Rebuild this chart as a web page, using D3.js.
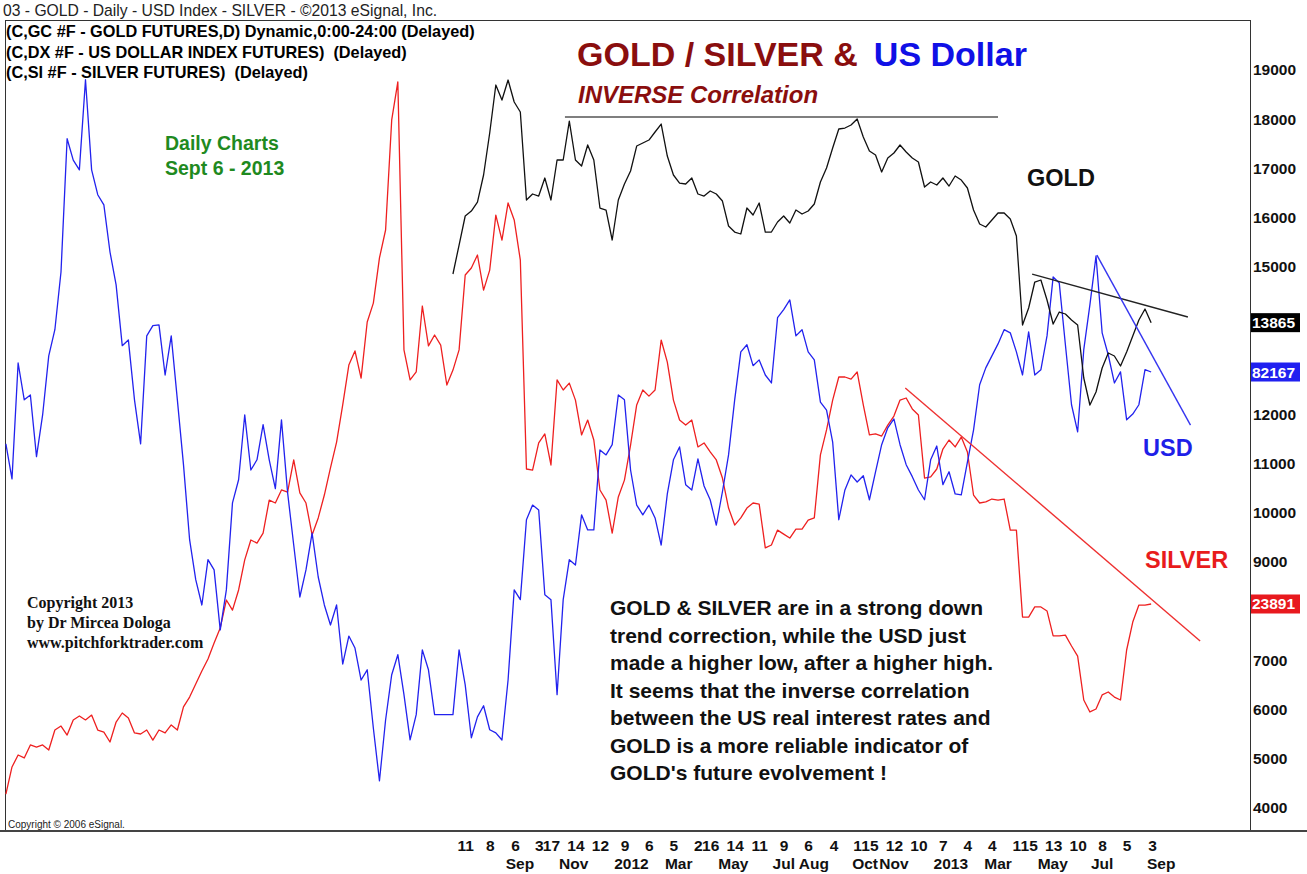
<!DOCTYPE html>
<html>
<head>
<meta charset="utf-8">
<script src="https://cdn.jsdelivr.net/npm/d3@7"></script>
<style>
  body { margin: 0; background: #fff; }
  svg { display: block; font-family: "Liberation Sans", Arial, sans-serif; }
</style>
</head>
<body>
<svg class="chart" width="1307" height="874"></svg>
<script>
// weekly (Monday) closes
var seriesStart = "2010-02-01";
var goldStart = "2011-06-27";
var stepDays = 7;

// US Dollar index futures (DX #F)
var usdCloses = [
  80.55, 79.76, 82.37, 81.54, 81.65, 80.26, 81.20, 82.53, 83.12, 84.42,
  87.42, 86.94, 86.72, 88.75, 86.72, 86.16, 85.93, 84.87, 84.13, 82.76,
  82.89, 81.54, 80.55, 82.98, 83.21, 83.23, 82.10, 82.98, 81.54, 80.08,
  78.39, 77.49, 76.92, 77.94, 77.71, 76.36, 77.26, 79.22, 79.74, 81.20,
  79.96, 80.19, 80.98, 80.19, 79.54, 81.09, 79.45, 78.27, 77.10, 77.71,
  78.54, 77.55, 76.92, 76.47, 76.92, 75.59, 76.22, 75.95, 75.23, 75.46,
  74.15, 72.96, 74.33, 75.35, 75.80, 74.90, 73.88, 74.45, 75.91, 75.46,
  74.45, 74.45, 74.45, 74.45, 75.91, 75.12, 73.93, 74.40, 74.65, 74.11,
  74.04, 73.88, 75.23, 77.26, 77.04, 78.84, 79.17, 79.06, 77.15, 77.04,
  74.90, 77.04, 77.94, 77.82, 78.95, 78.61, 78.61, 80.41, 80.30, 80.53,
  81.65, 81.54, 79.96, 79.17, 78.95, 79.17, 78.88, 78.27, 79.42, 80.19,
  80.48, 79.63, 79.51, 80.21, 79.60, 79.29, 78.72, 79.47, 80.30, 81.54,
  82.62, 82.78, 82.31, 82.44, 82.10, 81.92, 83.39, 83.57, 83.79, 82.98,
  83.12, 82.62, 82.44, 81.49, 81.31, 80.59, 78.84, 79.51, 79.85, 79.69,
  79.83, 79.29, 79.92, 80.53, 80.91, 81.11, 80.53, 80.08, 79.81, 79.51,
  79.29, 80.19, 80.50, 79.63, 79.92, 79.42, 79.40, 80.14, 80.86, 81.88,
  82.26, 82.53, 82.80, 83.12, 83.05, 82.62, 82.10, 83.07, 82.10, 82.22,
  82.98, 84.31, 84.17, 82.78, 81.43, 80.82, 82.67, 83.68, 84.78, 83.05,
  82.55, 81.92, 82.17, 81.09, 81.22, 81.43, 82.22, 82.167
];

// Silver futures (SI #F)
var silverCloses = [
  14.84, 16.13, 16.70, 16.56, 17.18, 17.08, 17.18, 16.94, 17.89, 18.08,
  17.65, 18.37, 18.56, 18.37, 18.60, 17.89, 17.79, 17.32, 18.27, 18.70,
  18.46, 17.75, 17.70, 17.89, 17.41, 17.89, 17.75, 18.13, 17.89, 18.99,
  19.46, 20.08, 20.70, 21.27, 22.03, 22.75, 24.08, 23.60, 24.56, 25.99,
  26.94, 26.79, 27.27, 28.84, 28.70, 29.32, 29.22, 30.75, 29.18, 28.70,
  27.18, 27.99, 29.08, 30.37, 31.60, 33.37, 35.27, 35.94, 34.65, 37.32,
  38.22, 40.37, 41.70, 46.94, 48.75, 35.99, 34.56, 34.94, 38.08, 36.18,
  36.70, 36.22, 34.32, 35.03, 35.99, 39.56, 39.89, 40.51, 38.84, 39.79,
  42.41, 41.22, 42.99, 42.18, 40.27, 30.32, 30.27, 31.56, 31.99, 30.51,
  34.56, 34.08, 34.41, 33.60, 31.94, 32.65, 31.70, 29.32, 28.84, 27.27,
  28.99, 29.79, 31.46, 33.37, 34.08, 33.79, 34.08, 36.46, 35.41, 33.60,
  32.65, 32.41, 32.65, 31.37, 31.56, 31.13, 30.75, 29.89, 28.46, 27.65,
  27.99, 28.46, 28.70, 28.65, 26.56, 26.70, 27.41, 27.22, 27.03, 27.46,
  27.46, 27.89, 27.99, 30.99, 32.18, 33.60, 34.70, 34.70, 34.60, 34.94,
  33.37, 31.94, 31.99, 31.89, 32.41, 32.84, 33.60, 33.70, 33.18, 32.89,
  29.89, 29.94, 30.32, 31.27, 31.70, 31.37, 31.84, 31.13, 29.08, 28.70,
  28.75, 28.89, 28.84, 28.89, 27.41, 27.41, 23.27, 23.27, 23.75, 23.75,
  23.56, 22.37, 22.37, 22.41, 21.89, 21.41, 19.32, 18.75, 18.89, 19.56,
  19.70, 19.46, 19.32, 21.70, 23.03, 23.84, 23.84, 23.891
];

// Gold futures (GC #F), data starts later than the other two
var goldCloses = [
  1485.4, 1544.3, 1603.3, 1613.4, 1631.7, 1686.6, 1772.0, 1869.5, 1839.0, 1879.7,
  1835.0, 1814.6, 1635.8, 1648.0, 1643.9, 1680.5, 1635.8, 1717.1, 1717.1, 1796.3,
  1717.1, 1704.9, 1747.6, 1717.1, 1619.5, 1615.4, 1554.5, 1635.8, 1668.3, 1694.7,
  1745.5, 1751.6, 1757.7, 1774.0, 1790.2, 1725.2, 1686.6, 1670.3, 1668.3, 1680.5,
  1648.0, 1643.9, 1654.1, 1648.0, 1633.7, 1582.9, 1570.7, 1566.7, 1619.5, 1605.3,
  1629.7, 1570.7, 1570.7, 1591.1, 1603.3, 1589.0, 1615.4, 1607.3, 1613.4, 1627.6,
  1672.4, 1700.8, 1741.5, 1780.1, 1782.1, 1788.2, 1800.4, 1763.8, 1735.4, 1727.2,
  1692.7, 1721.1, 1731.3, 1747.6, 1733.3, 1721.1, 1713.0, 1662.2, 1672.4, 1666.3,
  1680.5, 1664.2, 1684.6, 1676.4, 1660.2, 1615.4, 1587.0, 1580.9, 1595.1, 1609.4,
  1609.4, 1597.2, 1562.6, 1381.7, 1416.3, 1469.1, 1473.2, 1432.5, 1383.7, 1408.1,
  1404.1, 1391.9, 1381.7, 1274.0, 1219.1, 1245.5, 1294.3, 1324.8, 1318.7, 1298.4,
  1326.8, 1359.4, 1391.9, 1414.2, 1386.5
];

// hand drawn trend lines [date, price]
var goldCeiling = [["2011-11-02", 1804.5], ["2013-03-11", 1804.5]];
var goldTrend = [["2013-04-19", 1485], ["2013-10-14", 1398]];
var usdTrend = [["2013-07-02", 84.80], ["2013-10-17", 80.97]];
var silverTrend = [["2012-11-25", 34.18], ["2013-10-28", 22.13]];

// axis labels
var goldTicks = [400, 500, 600, 700, 800, 900, 1000, 1100, 1200, 1300, 1400, 1500, 1600, 1700, 1800, 1900];
var dayTicks = ["2011-07-11", "2011-08-08", "2011-09-06", "2011-10-03", "2011-10-17", "2011-11-14",
  "2011-12-12", "2012-01-09", "2012-02-06", "2012-03-05", "2012-04-02", "2012-04-16", "2012-05-14",
  "2012-06-11", "2012-07-09", "2012-08-06", "2012-09-04", "2012-10-01", "2012-10-15", "2012-11-12",
  "2012-12-10", "2013-01-07", "2013-02-04", "2013-03-04", "2013-04-01", "2013-04-15", "2013-05-13",
  "2013-06-10", "2013-07-08", "2013-08-05", "2013-09-03"];
var monthTicks = [["2011-09-01", "Sep"], ["2011-11-01", "Nov"], ["2012-01-03", "2012"], ["2012-03-01", "Mar"],
  ["2012-05-01", "May"], ["2012-07-02", "Jul"], ["2012-08-01", "Aug"], ["2012-10-01", "Oct"],
  ["2012-11-01", "Nov"], ["2013-01-02", "2013"], ["2013-03-01", "Mar"], ["2013-05-01", "May"],
  ["2013-07-01", "Jul"], ["2013-09-03", "Sep"]];

var headerLines = [
  "(C,GC #F - GOLD FUTURES,D) Dynamic,0:00-24:00 (Delayed)",
  "(C,DX #F - US DOLLAR INDEX FUTURES)  (Delayed)",
  "(C,SI #F - SILVER FUTURES)  (Delayed)"
];
var noteLines = [
  "GOLD & SILVER are in a strong down",
  "trend correction, while the USD just",
  "made a higher low, after a higher high.",
  "It seems that the inverse correlation",
  "between the US real interest rates and",
  "GOLD is a more reliable indicator of",
  "GOLD's future evolvement !"
];
var copyLines = ["Copyright 2013", "by Dr Mircea Dologa", "www.pitchforktrader.com"];

var goldColor = "#111", usdColor = "#2222ee", silverColor = "#ee2020";

var svg = d3.select(".chart");
var parse = d3.timeParse("%Y-%m-%d");

var x = d3.scaleTime()
    .domain([parse("2010-01-31"), parse("2013-12-24")])
    .range([5, 1250]);
// each symbol is overlaid on its own price scale, the axis shows gold
var yGold = d3.scaleLinear().domain([355.3, 1997.6]).range([830, 22]);
var yUsd = d3.scaleLinear().domain([71.852, 90.05]).range([830, 22]);
var ySilver = d3.scaleLinear().domain([13.129, 51.605]).range([830, 22]);

function weekly(values, start) {
  var t0 = parse(start);
  return values.map(function (v, i) {
    return { date: d3.timeDay.offset(t0, i * stepDays), value: v };
  });
}
function pairs(list) {
  return list.map(function (d) { return { date: parse(d[0]), value: d[1] }; });
}

// last price tags on the axis
var tags = [
  { value: goldCloses[goldCloses.length - 1], y: yGold, color: "#000", text: "13865" },
  { value: usdCloses[usdCloses.length - 1], y: yUsd, color: "#2020f0", text: "82167" },
  { value: silverCloses[silverCloses.length - 1], y: ySilver, color: "#e8191e", text: "23891" }
];

// frame
svg.append("rect")
    .attr("x", 5.5).attr("y", 20.5)
    .attr("width", 1245).attr("height", 810)
    .attr("fill", "none").attr("stroke", "#333").attr("stroke-width", 1);
svg.append("line")
    .attr("x1", 0).attr("x2", 1307).attr("y1", 831).attr("y2", 831)
    .attr("stroke", "#444").attr("stroke-width", 2);

svg.append("text")
    .attr("x", 3).attr("y", 16)
    .attr("font-size", 15.7).attr("fill", "#222")
    .text("03 - GOLD -  Daily - USD Index - SILVER - \u00a92013 eSignal, Inc.");

svg.append("g").selectAll("text")
    .data(headerLines)
    .enter().append("text")
    .attr("x", 6)
    .attr("y", function (d, i) { return 37 + i * 20.5; })
    .attr("font-size", 16.3).attr("font-weight", "bold")
    .style("white-space", "pre")
    .text(function (d) { return d; });

// right price axis (gold, shown x10 like eSignal); labels hidden under a tag are dropped
var shownTicks = goldTicks.filter(function (v) {
  return tags.every(function (t) { return Math.abs(yGold(v) - t.y(t.value)) > 12; });
});
var yAxis = svg.append("g")
    .attr("transform", "translate(1250,0)")
    .call(d3.axisRight(yGold)
      .tickValues(shownTicks)
      .tickSize(0)
      .tickPadding(3)
      .tickFormat(function (d) { return d * 10; }));
yAxis.select(".domain").remove();
yAxis.selectAll("text")
    .attr("font-family", "Liberation Sans, Arial, sans-serif")
    .attr("font-size", 15.5).attr("font-weight", "bold").attr("fill", "#111");

// date axis
var xAxis = svg.append("g")
    .attr("transform", "translate(0,830)")
    .call(d3.axisBottom(x)
      .tickValues(dayTicks.map(parse))
      .tickSize(0)
      .tickPadding(10)
      .tickFormat(d3.timeFormat("%-d")));
xAxis.select(".domain").remove();
xAxis.selectAll("text")
    .attr("font-family", "Liberation Sans, Arial, sans-serif")
    .attr("font-size", 15.5).attr("font-weight", "bold").attr("fill", "#111");

svg.append("g").selectAll("text")
    .data(monthTicks)
    .enter().append("text")
    .attr("x", function (d) { return x(parse(d[0])) - 5; })
    .attr("y", 869)
    .attr("font-size", 15.5).attr("font-weight", "bold").attr("fill", "#111")
    .text(function (d) { return d[1]; });

// series
var series = [
  { data: weekly(silverCloses, seriesStart), y: ySilver, color: silverColor },
  { data: weekly(usdCloses, seriesStart), y: yUsd, color: usdColor },
  { data: weekly(goldCloses, goldStart), y: yGold, color: goldColor }
];

series.forEach(function (s) {
  var line = d3.line()
      .x(function (d) { return x(d.date); })
      .y(function (d) { return s.y(d.value); });
  svg.append("path")
      .datum(s.data)
      .attr("fill", "none")
      .attr("stroke", s.color)
      .attr("stroke-width", 1.3)
      .attr("stroke-linejoin", "round")
      .attr("d", line);
});

// trend lines
var trends = [
  { data: pairs(goldCeiling), y: yGold, color: "#555", width: 1.6 },
  { data: pairs(goldTrend), y: yGold, color: "#222", width: 1.4 },
  { data: pairs(usdTrend), y: yUsd, color: "#3535f0", width: 1.4 },
  { data: pairs(silverTrend), y: ySilver, color: "#ee3030", width: 1.4 }
];
trends.forEach(function (t) {
  svg.append("line")
      .attr("x1", x(t.data[0].date)).attr("y1", t.y(t.data[0].value))
      .attr("x2", x(t.data[1].date)).attr("y2", t.y(t.data[1].value))
      .attr("stroke", t.color).attr("stroke-width", t.width);
});

var tag = svg.append("g").selectAll("g")
    .data(tags)
    .enter().append("g")
    .attr("transform", function (d) { return "translate(1251," + (d.y(d.value) - 9.5) + ")"; });
tag.append("rect")
    .attr("width", 49).attr("height", 19)
    .attr("fill", function (d) { return d.color; });
tag.append("text")
    .attr("x", 1).attr("y", 15)
    .attr("font-size", 15.5).attr("font-weight", "bold").attr("fill", "#fff")
    .text(function (d) { return d.text; });

// titles
var title = svg.append("text")
    .attr("x", 577).attr("y", 66)
    .attr("font-size", 34).attr("font-weight", "bold");
title.append("tspan").attr("fill", "#8a0e0e").text("GOLD / SILVER &");
title.append("tspan").attr("fill", "#1010e6").attr("dx", 16).text("US Dollar");

svg.append("text")
    .attr("x", 578).attr("y", 103)
    .attr("font-size", 24).attr("font-weight", "bold").attr("font-style", "italic")
    .attr("fill", "#8a0e0e")
    .text("INVERSE Correlation");

svg.append("g").selectAll("text")
    .data(["Daily Charts", "Sept 6 - 2013"])
    .enter().append("text")
    .attr("x", 165)
    .attr("y", function (d, i) { return 150 + i * 25; })
    .attr("font-size", 19.5).attr("font-weight", "bold").attr("fill", "#1f8a1f")
    .text(function (d) { return d; });

var names = [
  { text: "GOLD", x: 1027, y: 186, color: "#111" },
  { text: "USD", x: 1143, y: 456, color: "#1f1fe8" },
  { text: "SILVER", x: 1145, y: 568, color: "#e81c1c" }
];
svg.append("g").selectAll("text")
    .data(names)
    .enter().append("text")
    .attr("x", function (d) { return d.x; })
    .attr("y", function (d) { return d.y; })
    .attr("font-size", 23.5).attr("font-weight", "bold")
    .attr("fill", function (d) { return d.color; })
    .text(function (d) { return d.text; });

svg.append("g").selectAll("text")
    .data(noteLines)
    .enter().append("text")
    .attr("x", 610)
    .attr("y", function (d, i) { return 615 + i * 27.5; })
    .attr("font-size", 21).attr("font-weight", "bold").attr("fill", "#111")
    .text(function (d) { return d; });

svg.append("g").selectAll("text")
    .data(copyLines)
    .enter().append("text")
    .attr("x", 27)
    .attr("y", function (d, i) { return 608 + i * 20; })
    .attr("font-family", "Liberation Serif, Times New Roman, serif")
    .attr("font-size", 16).attr("font-weight", "bold").attr("fill", "#111")
    .text(function (d) { return d; });

svg.append("text")
    .attr("x", 8).attr("y", 828)
    .attr("font-size", 10).attr("fill", "#222")
    .text("Copyright \u00a9 2006 eSignal.");
</script>
</body>
</html>
